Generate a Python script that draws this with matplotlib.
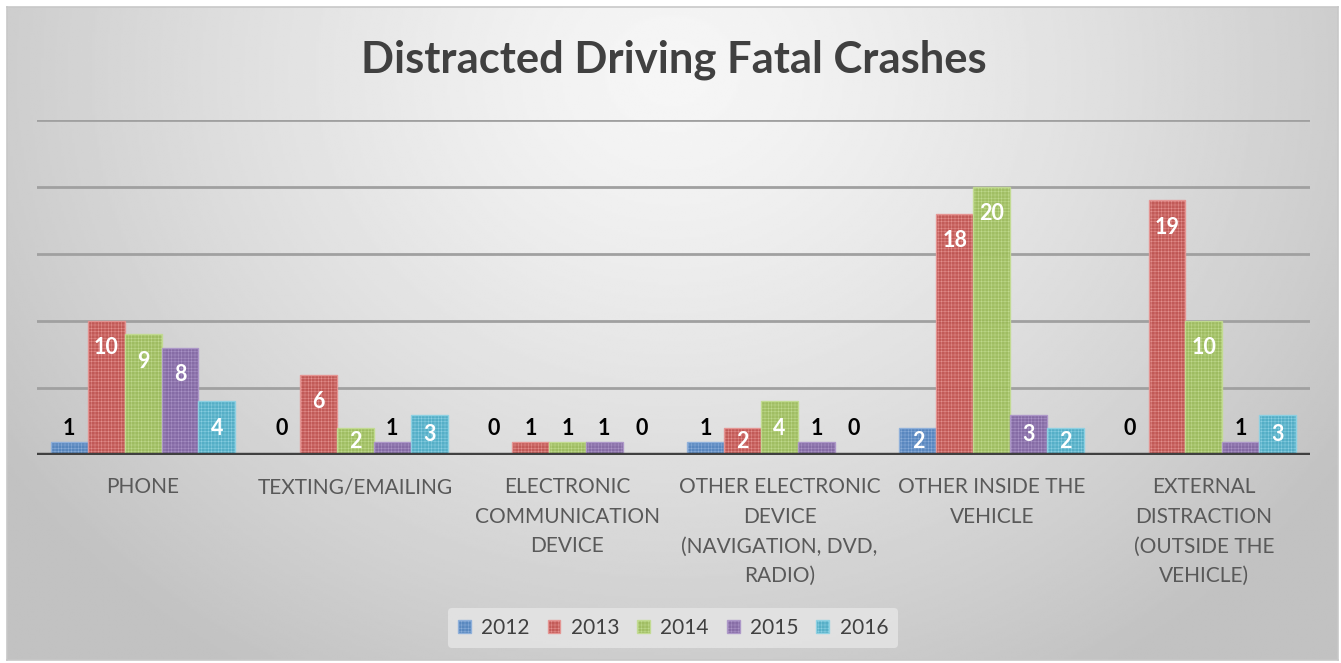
import numpy as np
import matplotlib.pyplot as plt

# Crash counts by distraction type and year
categories = [
    "PHONE",
    "TEXTING/EMAILING",
    "ELECTRONIC\nCOMMUNICATION\nDEVICE",
    "OTHER ELECTRONIC\nDEVICE\n(NAVIGATION, DVD,\nRADIO)",
    "OTHER INSIDE THE\nVEHICLE",
    "EXTERNAL\nDISTRACTION\n(OUTSIDE THE\nVEHICLE)",
]
years = ["2012", "2013", "2014", "2015", "2016"]
v2012 = [1, 0, 0, 1, 2, 0]
v2013 = [10, 6, 1, 2, 18, 19]
v2014 = [9, 2, 1, 4, 20, 10]
v2015 = [8, 1, 1, 1, 3, 1]
v2016 = [4, 3, 0, 0, 2, 3]
series = [v2012, v2013, v2014, v2015, v2016]

colors = ["#4f81bd", "#c0504d", "#9bbb59", "#8064a2", "#4bacc6"]
edge_colors = ["#8fb0db", "#e69593", "#c3dc92", "#ad97c9", "#8fd2e4"]

plt.rcParams["hatch.linewidth"] = 0.35
FONT = ["Lato", "DejaVu Sans"]

W, H, DPI = 1341, 663, 100
fig = plt.figure(figsize=(W / DPI, H / DPI), dpi=DPI)
fig.patch.set_facecolor("white")

# Soft radial grey background inside a thin frame
bg = fig.add_axes([7 / W, 3 / H, 1331 / W, 653 / H])
yy, xx = np.mgrid[0:1:300j, 0:1:600j]
r = np.sqrt(((xx - 0.5) / 0.62) ** 2 + ((yy - 0.1) / 1.1) ** 2)
shade = np.clip(0.965 - 0.21 * r ** 1.3, 0.76, 0.97)
bg.imshow(shade, cmap="gray", vmin=0, vmax=1, aspect="auto",
          extent=[0, 1, 1, 0], interpolation="bilinear")
bg.set_xlim(0, 1)
bg.set_ylim(1, 0)
bg.set_xticks([])
bg.set_yticks([])
for s in bg.spines.values():
    s.set_color("#c8c8c8")
    s.set_linewidth(1.2)
bg.set_zorder(0)

ax = fig.add_axes([37 / W, (H - 455) / H, 1273 / W, 335 / H])
ax.set_zorder(1)
ax.patch.set_alpha(0)
ax.set_xlim(-0.5, len(categories) - 0.5)
ax.set_ylim(0, 25)

for gy in [5, 10, 15, 20, 25]:
    ax.axhline(gy, color="#a0a0a0", lw=2.0, zorder=1)

x = np.arange(len(categories))
bw = 0.174
for i, (vals, c, ec) in enumerate(zip(series, colors, edge_colors)):
    pos = x + (i - 2) * bw
    ax.bar(pos, vals, width=bw, color=c, edgecolor=ec, linewidth=1.0,
           hatch="+++++", zorder=2, alpha=0.93, label=years[i])
    for px, v in zip(pos, vals):
        if v >= 2:
            ty = max(v - 2.0, v / 2.0)
            ax.text(px, ty, str(v), ha="center", va="center", color="white",
                    fontsize=15.5, fontweight="bold", family=FONT, zorder=4)
        else:
            ax.text(px, 2.0, str(v), ha="center", va="center", color="black",
                    fontsize=15.5, fontweight="bold", family=FONT, zorder=4)

ax.axhline(0, color="#404040", lw=3.2, zorder=3)

ax.set_yticks([])
ax.set_xticks(x)
ax.set_xticklabels(categories, fontsize=15, color="#595959", family=FONT,
                   linespacing=1.6, va="top")
ax.tick_params(axis="x", length=0, pad=16)
for s in ax.spines.values():
    s.set_visible(False)

fig.text(674 / W, 1 - 60 / H, "Distracted Driving Fatal Crashes",
         ha="center", va="center", fontsize=31.3, fontweight="bold",
         color="#404040", family=FONT)

leg = fig.legend(loc="center", bbox_to_anchor=(673 / W, 1 - 628 / H), ncol=5,
                 frameon=True, handlelength=0.62, handleheight=0.62,
                 handletextpad=0.5, columnspacing=0.85, borderpad=0.5,
                 prop={"family": FONT, "size": 15})
leg.get_frame().set_facecolor("#e6e6e6")
leg.get_frame().set_edgecolor("none")
leg.get_frame().set_alpha(0.8)
for t in leg.get_texts():
    t.set_color("#404040")

fig.savefig("out.png", dpi=DPI)
